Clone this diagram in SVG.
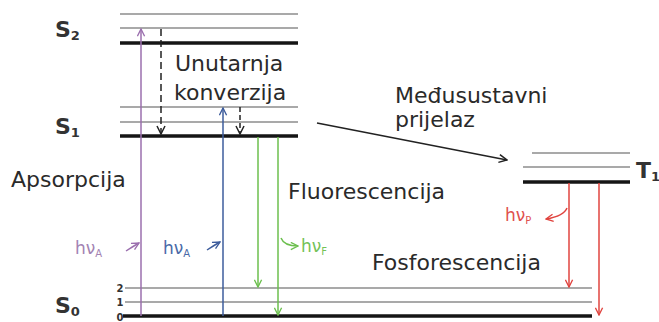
<svg xmlns="http://www.w3.org/2000/svg" width="659" height="322" viewBox="0 0 659 322">
<defs>
<style>
.t{font-family:"DejaVu Sans","Liberation Sans",sans-serif;fill:#2a2a2a}
.big{font-size:22px}
.s{font-size:22px;font-weight:bold;fill:#333}
.sub{font-size:13px;font-weight:bold}
.num{font-family:"DejaVu Sans",sans-serif;font-size:10px;font-weight:bold;fill:#333;text-anchor:middle}
.hv{font-family:"DejaVu Sans","Liberation Sans",sans-serif;font-size:17px}
.hs{font-size:10px}
.lv{stroke:#8c8c8c;stroke-width:1.6;fill:none}
.lk{stroke:#151515;stroke-width:3.5;fill:none}
.ar{fill:none;stroke-width:1.5}
</style>
<marker id="mP" viewBox="0 0 10 10" refX="9" refY="5" markerWidth="9" markerHeight="9" markerUnits="userSpaceOnUse" orient="auto"><path d="M1,1 L9,5 L1,9" fill="none" stroke="#9b6fae" stroke-width="1.5"/></marker>
<marker id="mB" viewBox="0 0 10 10" refX="9" refY="5" markerWidth="9" markerHeight="9" markerUnits="userSpaceOnUse" orient="auto"><path d="M1,1 L9,5 L1,9" fill="none" stroke="#3d5c9c" stroke-width="1.5"/></marker>
<marker id="mG" viewBox="0 0 10 10" refX="9" refY="5" markerWidth="9" markerHeight="9" markerUnits="userSpaceOnUse" orient="auto"><path d="M1,1 L9,5 L1,9" fill="none" stroke="#6cbf4e" stroke-width="1.5"/></marker>
<marker id="mR" viewBox="0 0 10 10" refX="9" refY="5" markerWidth="9" markerHeight="9" markerUnits="userSpaceOnUse" orient="auto"><path d="M1,1 L9,5 L1,9" fill="none" stroke="#e0443f" stroke-width="1.5"/></marker>
<marker id="mK" viewBox="0 0 10 10" refX="9" refY="5" markerWidth="10" markerHeight="10" markerUnits="userSpaceOnUse" orient="auto"><path d="M1,1 L9,5 L1,9" fill="none" stroke="#222" stroke-width="1.5"/></marker>
</defs>
<rect width="659" height="322" fill="#fff"/>

<g id="S2">
<line class="lv" x1="120" y1="14" x2="298" y2="14"/>
<line class="lv" x1="120" y1="28" x2="298" y2="28"/>
<line class="lk" x1="120" y1="43" x2="298" y2="43"/>
<text class="t s" x="55" y="37">S<tspan class="sub" dy="3">2</tspan></text>
</g>
<g id="S1">
<line class="lv" x1="120" y1="107" x2="298" y2="107"/>
<line class="lv" x1="120" y1="122" x2="298" y2="122"/>
<line class="lk" x1="120" y1="136" x2="298" y2="136"/>
<text class="t s" x="55" y="134">S<tspan class="sub" dy="3">1</tspan></text>
</g>
<g id="S0">
<line class="lv" x1="125" y1="288" x2="592" y2="288"/>
<line class="lv" x1="125" y1="302" x2="592" y2="302"/>
<line class="lk" x1="123" y1="316" x2="592" y2="316"/>
<text class="t s" x="55" y="313">S<tspan class="sub" dy="3">0</tspan></text>
<text class="num" x="120" y="292">2</text>
<text class="num" x="120" y="306">1</text>
<text class="num" x="120" y="321">0</text>
</g>
<g id="T1">
<line class="lv" x1="532" y1="153" x2="630" y2="153"/>
<line class="lv" x1="523" y1="167" x2="630" y2="167"/>
<line class="lk" x1="523" y1="182" x2="630" y2="182"/>
<text class="t s" x="636" y="178">T<tspan class="sub" dy="3">1</tspan></text>
</g>

<g id="connectors">
<line class="ar" stroke="#9b6fae" x1="141" y1="316" x2="141" y2="29" marker-end="url(#mP)"/>
<line class="ar" stroke="#222" stroke-dasharray="7,4" x1="161" y1="29" x2="161" y2="134" marker-end="url(#mK)"/>
<line class="ar" stroke="#3d5c9c" x1="223" y1="316" x2="223" y2="108" marker-end="url(#mB)"/>
<line class="ar" stroke="#222" stroke-dasharray="5,3" x1="240" y1="107" x2="240" y2="134" marker-end="url(#mK)"/>
<line class="ar" stroke="#6cbf4e" x1="258" y1="137" x2="258" y2="287" marker-end="url(#mG)"/>
<line class="ar" stroke="#6cbf4e" x1="278" y1="137" x2="278" y2="315" marker-end="url(#mG)"/>
<line class="ar" stroke="#e0443f" x1="569" y1="183" x2="569" y2="287" marker-end="url(#mR)"/>
<line class="ar" stroke="#e0443f" x1="599" y1="183" x2="599" y2="315" marker-end="url(#mR)"/>
<line class="ar" stroke="#222" x1="317" y1="123" x2="507" y2="160" marker-end="url(#mK)"/>
<path class="ar" stroke="#9b6fae" d="M126,251 Q132,247 139,243" marker-end="url(#mP)"/>
<path class="ar" stroke="#3d5c9c" d="M207,250 Q213,246 220,242" marker-end="url(#mB)"/>
<path class="ar" stroke="#6cbf4e" d="M281,238 Q284,246 298,246" marker-end="url(#mG)"/>
<path class="ar" stroke="#e0443f" d="M567,208 Q564,216 546,219" marker-end="url(#mR)"/>
</g>

<g id="labels">
<text class="t big" x="175" y="71">Unutarnja</text>
<text class="t big" x="174" y="100">konverzija</text>
<text class="t big" x="395" y="103">Međusustavni</text>
<text class="t big" x="395" y="127">prijelaz</text>
<text class="t big" x="11" y="187">Apsorpcija</text>
<text class="t big" x="288" y="199">Fluorescencija</text>
<text class="t big" x="372" y="270">Fosforescencija</text>
<text class="hv" x="75" y="254" fill="#a383b3">hν<tspan class="hs" dy="3">A</tspan></text>
<text class="hv" x="163" y="254" fill="#4a6aa8">hν<tspan class="hs" dy="3">A</tspan></text>
<text class="hv" x="301" y="252" fill="#74c257">hν<tspan class="hs" dy="3">F</tspan></text>
<text class="hv" x="505" y="221" fill="#e0504d">hν<tspan class="hs" dy="3">P</tspan></text>
</g>
</svg>
